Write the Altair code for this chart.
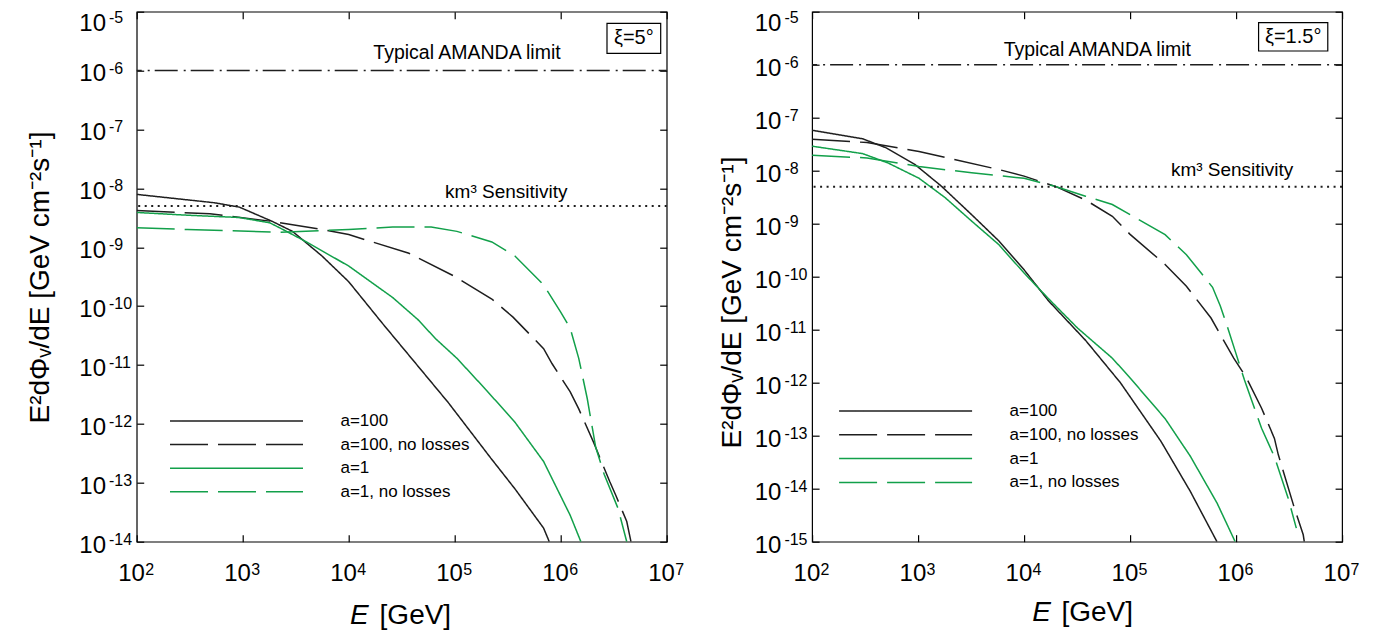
import math
import altair as alt
import pandas as pd

FONT = "Liberation Sans"
BLACK = "#1e1e1e"
GREEN = "#12a04a"

SERIES = ["a=100", "a=100, no losses", "a=1", "a=1, no losses"]
SERIES_COLORS = [BLACK, BLACK, GREEN, GREEN]
SERIES_DASH = [[1, 0], [38, 10], [1, 0], [38, 10]]

X_TICKS = [1e2, 1e3, 1e4, 1e5, 1e6, 1e7]
LEFT_Y_TICKS = [1e-5, 1e-6, 1e-7, 1e-8, 1e-9, 1e-10, 1e-11, 1e-12, 1e-13, 1e-14]
RIGHT_Y_TICKS = [1e-5, 1e-6, 1e-7, 1e-8, 1e-9, 1e-10, 1e-11, 1e-12, 1e-13, 1e-14, 1e-15]

AMANDA_LIMIT = 1e-6
KM3_SENSITIVITY = 5e-9

# ---- left panel (xi = 5 deg) ----
left_a100_E = [1.0e2, 5.4e2, 9.3e2, 1.9e3, 2.95e3, 5.6e3, 1.0e4, 2.1e4, 8.7e4, 2.2e5, 3.7e5, 6.9e5, 7.8e5]
left_a100_F = [7.9e-9, 5.7e-9, 4.8e-9, 2.75e-9, 1.86e-9, 7.1e-10, 2.6e-10, 5.0e-11, 2.3e-12, 2.6e-13, 7.9e-14, 1.7e-14, 1.0e-14]

left_a100nl_E = [1.0e2, 4.9e2, 1.9e3, 5.6e3, 1.0e4, 3.7e4, 1.0e5, 2.24e5, 3.55e5, 6.9e5, 8.3e5, 1.23e6, 1.48e6, 2.04e6, 2.9e6, 3.3e6, 4.2e6, 4.6e6]
left_a100nl_F = [4.2e-9, 3.7e-9, 2.75e-9, 2.0e-9, 1.64e-9, 7.9e-10, 3.2e-10, 1.32e-10, 6.5e-11, 1.9e-11, 1.05e-11, 3.5e-12, 1.8e-12, 4.9e-13, 1.05e-13, 6.2e-14, 2.2e-14, 1.0e-14]

left_a1_E = [1.0e2, 3.0e2, 9.3e2, 1.8e3, 2.4e3, 3.9e3, 1.0e4, 2.6e4, 4.5e4, 6.6e4, 1.05e5, 2.0e5, 3.7e5, 6.9e5, 1.23e6, 1.55e6]
left_a1_F = [3.9e-9, 3.5e-9, 3.2e-9, 2.6e-9, 2.0e-9, 1.26e-9, 4.8e-10, 1.4e-10, 5.9e-11, 2.8e-11, 1.3e-11, 3.7e-12, 1.07e-12, 2.3e-13, 2.8e-14, 1.0e-14]

left_a1nl_E = [1.0e2, 3.0e2, 2.2e3, 1.0e4, 2.6e4, 6.0e4, 1.05e5, 2.24e5, 3.7e5, 6.9e5, 1.0e6, 1.23e6, 1.48e6, 1.78e6, 2.14e6, 2.57e6, 3.47e6, 4.2e6]
left_a1nl_F = [2.15e-9, 2.0e-9, 1.8e-9, 2.0e-9, 2.2e-9, 2.2e-9, 1.86e-9, 1.23e-9, 7.1e-10, 2.3e-10, 7.9e-11, 4.2e-11, 1.3e-11, 2.7e-12, 4.0e-13, 1.4e-13, 3.7e-14, 1.0e-14]

# ---- right panel (xi = 1.5 deg) ----
right_a100_E = [1.0e2, 3.0e2, 5.0e2, 9.3e2, 1.66e3, 3.2e3, 5.8e3, 1.0e4, 1.7e4, 3.8e4, 8.1e4, 1.95e5, 3.7e5, 6.6e5]
right_a100_F = [5.8e-8, 4.0e-8, 2.7e-8, 1.32e-8, 5.1e-9, 1.48e-9, 4.7e-10, 1.35e-10, 3.5e-11, 6.3e-12, 1.0e-12, 7.9e-14, 8.9e-15, 1.0e-15]

right_a100nl_E = [1.0e2, 3.3e2, 1.02e3, 2.2e3, 5.8e3, 1.0e4, 2.0e4, 3.8e4, 6.8e4, 1.0e5, 2.14e5, 3.4e5, 5.8e5, 9.5e5, 1.23e6, 1.74e6, 2.3e6, 2.5e6, 3.55e6, 4.3e6, 4.4e6]
right_a100nl_F = [3.9e-8, 3.4e-8, 2.3e-8, 1.62e-8, 1.05e-8, 7.9e-9, 5.0e-9, 2.8e-9, 1.38e-9, 6.3e-10, 1.7e-10, 6.6e-11, 1.66e-11, 2.9e-12, 1.32e-12, 3.3e-13, 8.9e-14, 4.4e-14, 4.3e-15, 1.35e-15, 1.0e-15]

right_a1_E = [1.0e2, 3.0e2, 5.2e2, 1.02e3, 1.8e3, 3.2e3, 5.8e3, 1.0e4, 1.78e4, 3.2e4, 6.8e4, 1.0e5, 2.14e5, 3.7e5, 6.6e5, 9.8e5]
right_a1_F = [2.9e-8, 2.1e-8, 1.4e-8, 7.2e-9, 3.1e-9, 1.12e-9, 4.0e-10, 1.17e-10, 3.5e-11, 1.07e-11, 2.9e-12, 1.23e-12, 2.1e-13, 4.1e-14, 5.4e-15, 1.0e-15]

right_a1nl_E = [1.0e2, 3.3e2, 1.02e3, 3.2e3, 1.0e4, 1.95e4, 3.8e4, 6.8e4, 1.0e5, 2.14e5, 3.4e5, 6.0e5, 7.1e5, 8.3e5, 1.0e6, 1.2e6, 1.41e6, 1.74e6, 2.3e6, 3.1e6, 3.7e6]
right_a1nl_F = [1.95e-8, 1.74e-8, 1.2e-8, 9.1e-9, 7.2e-9, 5.1e-9, 3.3e-9, 2.3e-9, 1.48e-9, 6.2e-10, 2.6e-10, 6.3e-11, 2.8e-11, 1.12e-11, 3.5e-12, 1.12e-12, 4.5e-13, 1.38e-13, 4.0e-14, 6.6e-15, 1.8e-15]


def table(pairs):
    rows = []
    for name, es, fs in pairs:
        for e, f in zip(es, fs):
            rows.append({"series": name, "E": e, "F": f})
    return pd.DataFrame(rows)


left_df = table([
    (SERIES[0], left_a100_E, left_a100_F),
    (SERIES[1], left_a100nl_E, left_a100nl_F),
    (SERIES[2], left_a1_E, left_a1_F),
    (SERIES[3], left_a1nl_E, left_a1nl_F),
])
right_df = table([
    (SERIES[0], right_a100_E, right_a100_F),
    (SERIES[1], right_a100nl_E, right_a100nl_F),
    (SERIES[2], right_a1_E, right_a1_F),
    (SERIES[3], right_a1nl_E, right_a1nl_F),
])


def exp_expr(ticks):
    e = "round(log(datum.value)/LN10)"
    parts = [f"{e} == {round(math.log10(t))} ? '{round(math.log10(t))}'" for t in ticks]
    return " : ".join(parts) + " : ''"


Y_TITLE = "E²dΦᵥ/dE [GeV cm⁻²s⁻¹]"
W, H = 530, 530
TOP_TEST = "datum.value > 5e-6"


def make_panel(df, y_ticks, ann, spacer=False):
    xs = alt.Scale(type="log", domain=[X_TICKS[0], X_TICKS[-1]], nice=False)
    ys = alt.Scale(type="log", domain=[min(y_ticks), max(y_ticks)], nice=False)
    leg = alt.Legend(
        title=None, orient="none", legendX=ann["leg_x"], legendY=ann["leg_y"],
        symbolType="stroke", symbolSize=133 * 133, symbolStrokeWidth=1.5,
        labelFont=FONT, labelFontSize=17, labelColor="black", labelLimit=400,
        clipHeight=16, rowPadding=ann["leg_row"], labelOffset=36.5, padding=0,
        symbolOffset=0, offset=0,
    )
    curves = alt.Chart(df).mark_line(strokeWidth=1.5, clip=True).encode(
        x=alt.X("E:Q", scale=xs, axis=alt.Axis(
            orient="bottom", values=X_TICKS, labelExpr="'10'",
            tickSize=7, offset=-7, domain=False, labelPadding=19.5,
            labelOffset=-5.7, labelBaseline="top",
            labelFontSize=24, labelFlush=False, labelOverlap=False,
            title=None, grid=False)),
        y=alt.Y("F:Q", scale=ys, axis=alt.Axis(
            orient="left", values=y_ticks, labelExpr="'10'",
            tickSize=7, offset=-7, domain=False, labelPadding=31.2,
            labelAlign="right", labelBaseline="middle",
            labelOffset={"condition": {"test": TOP_TEST, "value": 11.4}, "value": 3.4},
            labelFontSize=24, labelFlush=False, labelOverlap=False,
            title=Y_TITLE, titleFontSize=28, titleFontWeight="normal",
            titleAngle=270, titleX=ann["yt_x"], titleY=ann["yt_y"],
            titleAlign="center", titleBaseline="alphabetic", grid=False)),
        color=alt.Color("series:N", scale=alt.Scale(domain=SERIES, range=SERIES_COLORS), legend=leg),
        strokeDash=alt.StrokeDash("series:N", scale=alt.Scale(domain=SERIES, range=SERIES_DASH), legend=leg),
    )
    exponents = alt.Chart(df).mark_point(opacity=0).encode(
        x=alt.X("E:Q", scale=xs, axis=alt.Axis(
            orient="bottom", values=X_TICKS, labelExpr=exp_expr(X_TICKS),
            ticks=False, tickSize=0, offset=0, domain=False, labelPadding=20.3,
            labelAlign="left", labelBaseline="top", labelOffset=8,
            labelFontSize=16, labelFlush=False, labelOverlap=False,
            title=None, grid=False)),
        y=alt.Y("F:Q", scale=ys, axis=alt.Axis(
            orient="left", values=y_ticks, labelExpr=exp_expr(y_ticks),
            ticks=False, tickSize=0, offset=0, domain=False, labelPadding=28.2,
            labelAlign="left", labelBaseline="alphabetic",
            labelOffset={"condition": {"test": TOP_TEST, "value": 10.5}, "value": 2.5},
            labelFontSize=16, labelFlush=False, labelOverlap=False,
            title=None, grid=False)),
    )
    mirror = alt.Chart(df).mark_point(opacity=0).encode(
        x=alt.X("E:Q", scale=xs, axis=alt.Axis(
            orient="top", values=X_TICKS, labels=False, tickSize=7, offset=-7,
            domain=False, title=None, grid=False)),
        y=alt.Y("F:Q", scale=ys, axis=alt.Axis(
            orient="right", values=y_ticks, labels=False, tickSize=7, offset=-7,
            domain=False, title=None, grid=False)),
    )
    amanda = alt.Chart(pd.DataFrame({"F": [AMANDA_LIMIT]})).mark_rule(
        color=BLACK, strokeWidth=1.5, strokeDash=[23, 5, 2, 6], strokeDashOffset=15
    ).encode(y=alt.Y("F:Q", scale=ys, axis=None))
    sens = alt.Chart(pd.DataFrame({"F": [KM3_SENSITIVITY]})).mark_rule(
        color=BLACK, strokeWidth=2, strokeDash=[2, 4.5]
    ).encode(y=alt.Y("F:Q", scale=ys, axis=None))

    def txt(s, x, y, size=19.5, align="center", baseline="alphabetic", style="normal"):
        return alt.Chart(pd.DataFrame({"t": [s]})).mark_text(
            font=FONT, fontSize=size, align=align, baseline=baseline,
            color="black", fontStyle=style
        ).encode(text="t:N", x=alt.value(x), y=alt.value(y))

    box = alt.Chart(pd.DataFrame({"t": [ann["xi"]]})).mark_rect(
        fill="white", stroke="black", strokeWidth=1.2
    ).encode(x=alt.value(ann["box"][0]), x2=alt.value(ann["box"][1]),
             y=alt.value(ann["box"][2]), y2=alt.value(ann["box"][3]))
    bx = (ann["box"][0] + ann["box"][1]) / 2
    by = (ann["box"][2] + ann["box"][3]) / 2

    layers = [
        curves, exponents, mirror, amanda, sens,
        txt("Typical AMANDA limit", ann["am"][0], ann["am"][1]),
        txt("km³ Sensitivity", ann["km"][0], ann["km"][1], size=19),
        box,
        txt(ann["xi"], bx, by, size=20, baseline="middle"),
        txt("E", ann["xt_e"], ann["xt_y"], size=28, align="left", style="italic"),
        txt("[GeV]", ann["xt_g"], ann["xt_y"], size=28, align="left"),
    ]
    if spacer:
        # invisible frame that fixes the outer extent of the chart
        layers.append(alt.Chart(pd.DataFrame({"t": [0]})).mark_rect(opacity=0).encode(
            x=alt.value(-140), x2=alt.value(-130), y=alt.value(-30), y2=alt.value(0)))
    return alt.layer(*layers).resolve_scale(x="independent", y="independent").properties(width=W, height=H)


left = make_panel(left_df, LEFT_Y_TICKS, {
    "leg_x": 32.3, "leg_y": 401.3, "leg_row": 6.6,
    "yt_x": -95, "yt_y": 265.3,
    "am": (330.3, 47.6), "km": (369.6, 186.6),
    "box": (470.3, 524, 11.6, 41.6), "xi": "ξ=5°",
    "xt_e": 213.3, "xt_g": 242.9, "xt_y": 612.6,
}, spacer=True)
right = make_panel(right_df, RIGHT_Y_TICKS, {
    "leg_x": 26, "leg_y": 391.3, "leg_row": 6.8,
    "yt_x": -79, "yt_y": 290.3,
    "am": (285.2, 44.3), "km": (420, 164.3),
    "box": (446.5, 515.7, 11, 39.3), "xi": "ξ=1.5°",
    "xt_e": 220.1, "xt_g": 249.4, "xt_y": 609.3,
})

chart = alt.hconcat(left, right, spacing=145.4, bounds="flush").resolve_scale(
    color="independent", strokeDash="independent"
).resolve_legend(
    color="independent", strokeDash="independent"
).configure(
    padding={"left": -12.3, "top": -27.3, "right": 5, "bottom": 0}, font=FONT
).configure_view(
    stroke="black", strokeWidth=1.2
).configure_axis(
    labelFont=FONT, titleFont=FONT, labelColor="black", titleColor="black",
    tickColor="black", tickWidth=1.2
)

chart.save("out.html", embed_options={"renderer": "svg", "actions": False})
